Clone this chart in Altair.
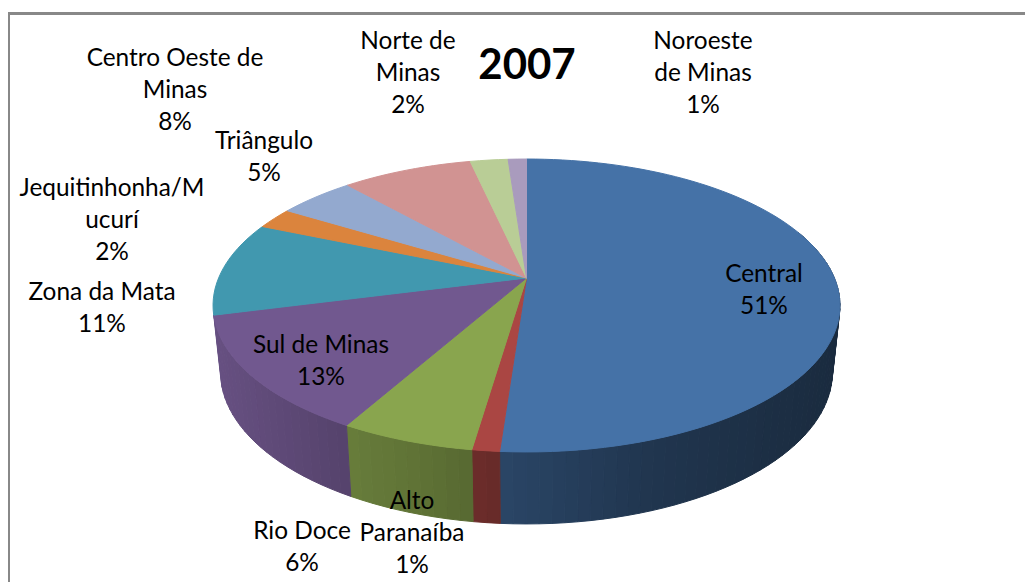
import math
import altair as alt
import pandas as pd

# ---- data ----
regions = ["Central", "Alto Paranaíba", "Rio Doce", "Sul de Minas", "Zona da Mata",
           "Jequitinhonha/Mucurí", "Triângulo", "Centro Oeste de Minas", "Norte de Minas", "Noroeste de Minas"]
shares = [51.13, 1.18, 5.82, 12.84, 10.42, 2.36, 4.72, 8.06, 2.34, 1.13]
percent_labels = ["51%", "1%", "6%", "13%", "11%", "2%", "5%", "8%", "2%", "1%"]
label_lines = ["Central", "Alto\nParanaíba", "Rio Doce", "Sul de Minas", "Zona da Mata",
               "Jequitinhonha/M\nucurí", "Triângulo", "Centro Oeste de\nMinas", "Norte de\nMinas", "Noroeste\nde Minas"]
title_text = "2007"

# ---- styles and layout (page pixels) ----
colors = ["#4572A7", "#AA4643", "#89A54E", "#71588F", "#4198AF",
          "#DB843D", "#93A9CF", "#D19392", "#B9CD96", "#A99BBD"]
label_xy = [(764, 275), (412, 502), (302, 532), (321, 346), (102, 293),
            (112, 189), (264, 142), (175, 59), (408, 42), (703, 42)]
W, H = 1017, 574
APEX = (526.5, 278.0)
PA, PB, PK = 307.9, 141.3, 0.1877
BX, BY, BS = 0.976, 372.0, 152.0 / 146.5
CY = 305.5
WALL_LAST = 3  # the wall is seen up to the end of this slice
shade_x = [200, 220, 340, 410, 485, 510, 650, 830, 850]
shade_f = [0.92, 0.90, 0.76, 0.70, 0.62, 0.60, 0.47, 0.38, 0.38]


def top(theta):
    s, c = math.sin(theta), math.cos(theta)
    w = 1 + PK * c
    return APEX[0] + PA * s / w, APEX[1] - PB * c / w


def bottom(x, y):
    return APEX[0] + (x - APEX[0]) * BX, BY + (y - CY) * BS


def shade(hexcol, x):
    f = shade_f[-1]
    for i in range(len(shade_x) - 1):
        if shade_x[i] <= x <= shade_x[i + 1]:
            t = (x - shade_x[i]) / (shade_x[i + 1] - shade_x[i])
            f = shade_f[i] + t * (shade_f[i + 1] - shade_f[i])
            break
    r, g, b = [int(hexcol[j:j + 2], 16) for j in (1, 3, 5)]
    return "#%02x%02x%02x" % (round(r * f), round(g * f), round(b * f))


total = sum(shares)
edges = [0.0]
for v in shares:
    edges.append(edges[-1] + v / total * 2 * math.pi)

rows = []
gid = 0
STEP = math.radians(2)
# side wall, drawn first, split into narrow strips for the shading
for i, col in enumerate(colors[:WALL_LAST + 1]):
    a0, a1 = edges[i], edges[i + 1]
    lo, hi = max(a0, math.radians(70)), a1
    n = max(1, int((hi - lo) / STEP))
    for k in range(n):
        t0, t1 = lo + (hi - lo) * k / n, lo + (hi - lo) * (k + 1) / n
        p0, p1 = top(t0), top(t1)
        q0, q1 = bottom(*p0), bottom(*p1)
        c = shade(col, (p0[0] + p1[0]) / 2)
        for o, (x, y) in enumerate([p0, p1, q1, q0]):
            rows.append(dict(g=gid, o=o, x=x, y=y, c=c))
        gid += 1
# top surface wedges
for i, col in enumerate(colors):
    a0, a1 = edges[i], edges[i + 1]
    n = max(2, int((a1 - a0) / STEP))
    pts = [APEX] + [top(a0 + (a1 - a0) * k / n) for k in range(n + 1)]
    for o, (x, y) in enumerate(pts):
        rows.append(dict(g=gid, o=o, x=x, y=y, c=col))
    gid += 1
df = pd.DataFrame(rows)
df["x"] -= 8
df["y"] -= 8

xs = alt.Scale(domain=[0, W], range=[0, W], nice=False, zero=False)
ys = alt.Scale(domain=[0, H], range=[0, H], nice=False, zero=False)

pie = alt.Chart(df).mark_line(interpolate="linear-closed", strokeWidth=1).encode(
    x=alt.X("x:Q", scale=xs, axis=None),
    y=alt.Y("y:Q", scale=ys, axis=None),
    detail="g:N",
    order="o:Q",
    fill=alt.Fill("c:N", scale=None),
    stroke=alt.Stroke("c:N", scale=None),
)

FONT = "Lato"
labels = pd.DataFrame({
    "t": [f"{a}\n{b}" for a, b in zip(label_lines, percent_labels)],
    "px": [p[0] - 8 for p in label_xy],
    "py": [p[1] - 8 for p in label_xy],
})
text = alt.Chart(labels).mark_text(font=FONT, fontSize=24.4, color="#000000", lineBreak="\n",
                                   lineHeight=32, align="center", baseline="middle").encode(
    x=alt.X("px:Q", scale=xs, axis=None),
    y=alt.Y("py:Q", scale=ys, axis=None),
    text="t:N",
)
title = alt.Chart(pd.DataFrame({"t": [title_text]})).mark_text(
    font=FONT, fontSize=42, fontWeight="bold", color="#000000", align="center", baseline="middle"
).encode(x=alt.value(527 - 8), y=alt.value(66 - 8), text="t:N")

frame_top = alt.Chart(pd.DataFrame({"a": [0]})).mark_rule(color="#888888", strokeWidth=3).encode(
    x=alt.value(0), x2=alt.value(W + 8), y=alt.value(5.5))
frame_left = alt.Chart(pd.DataFrame({"a": [0]})).mark_rule(color="#888888", strokeWidth=2).encode(
    x=alt.value(1), y=alt.value(4), y2=alt.value(H))

chart = alt.layer(frame_top, frame_left, pie, text, title).properties(
    width=W, height=H, padding=0, autosize=alt.AutoSizeParams(type="none")
).configure_view(stroke=None)

chart.save("out.html", embed_options={"renderer": "svg", "actions": False})
